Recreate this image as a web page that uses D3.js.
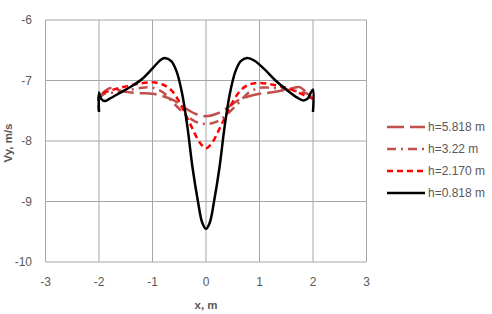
<!DOCTYPE html>
<html>
<head>
<meta charset="utf-8">
<script src="https://cdn.jsdelivr.net/npm/d3@7"></script>
<style>
  body { margin: 0; background: #fff; }
  text { font-family: "Liberation Sans", Arial, sans-serif; fill: #595959; }
</style>
</head>
<body>
<div id="chart"></div>
<script>
// Vy profiles across x for several heights h

var xTicks = [-3, -2, -1, 0, 1, 2, 3];
var yTicks = [-6, -7, -8, -9, -10];

var seriesNames = ["h=5.818 m", "h=3.22 m", "h=2.170 m", "h=0.818 m"];

var xs5818 = [-2, -1.9, -1.75, -1.6, -1.4, -1.2, -1.0, -0.8, -0.6, -0.4, -0.2, 0, 0.2, 0.4, 0.6, 0.8, 1.0, 1.2, 1.4, 1.6, 1.75, 1.9, 2];
var vy5818 = [-7.3, -7.18, -7.12, -7.17, -7.2, -7.21, -7.22, -7.26, -7.33, -7.45, -7.55, -7.59, -7.55, -7.45, -7.33, -7.26, -7.22, -7.2, -7.17, -7.13, -7.11, -7.22, -7.3];

var xs322 = [-2, -1.9, -1.7, -1.5, -1.2, -1.0, -0.8, -0.6, -0.4, -0.2, 0, 0.2, 0.4, 0.6, 0.8, 1.0, 1.2, 1.5, 1.7, 1.9, 2];
var vy322 = [-7.3, -7.22, -7.2, -7.17, -7.12, -7.12, -7.2, -7.38, -7.55, -7.68, -7.72, -7.68, -7.55, -7.38, -7.2, -7.12, -7.12, -7.15, -7.18, -7.22, -7.3];

var xs2170 = [-2, -2, -1.9, -1.6, -1.3, -1.0, -0.8, -0.65, -0.52, -0.36, -0.24, -0.12, 0, 0.12, 0.24, 0.36, 0.52, 0.65, 0.8, 1.0, 1.3, 1.6, 1.85, 2];
var vy2170 = [-7.5, -7.25, -7.2, -7.12, -7.06, -7.03, -7.07, -7.16, -7.32, -7.6, -7.82, -8.02, -8.12, -8.02, -7.82, -7.6, -7.32, -7.16, -7.07, -7.04, -7.08, -7.15, -7.25, -7.3];

var xs0818 = [-2, -2, -1.96, -1.89, -1.8, -1.6, -1.4, -1.2, -1.0, -0.85, -0.77, -0.65, -0.55, -0.45, -0.35, -0.25, -0.15, -0.07, 0, 0.07, 0.15, 0.25, 0.35, 0.45, 0.55, 0.65, 0.77, 0.9, 1.1, 1.3, 1.5, 1.7, 1.82, 1.9, 1.96, 2, 2];
var vy0818 = [-7.52, -7.2, -7.3, -7.34, -7.3, -7.2, -7.1, -6.98, -6.8, -6.66, -6.63, -6.68, -6.85, -7.2, -7.75, -8.45, -9.0, -9.35, -9.45, -9.35, -9.0, -8.45, -7.75, -7.2, -6.85, -6.68, -6.63, -6.67, -6.82, -7.0, -7.15, -7.28, -7.33, -7.3, -7.2, -7.15, -7.52];

var series = [
  {name: seriesNames[0], xs: xs5818, ys: vy5818, color: "#c0504d", width: 2.5, dash: "17,6"},
  {name: seriesNames[1], xs: xs322, ys: vy322, color: "#c0504d", width: 2.5, dash: "9,5,2,5"},
  {name: seriesNames[2], xs: xs2170, ys: vy2170, color: "#ff0000", width: 2.5, dash: "6,4"},
  {name: seriesNames[3], xs: xs0818, ys: vy0818, color: "#000000", width: 2.5, dash: null}
];

(function(){
  var width = 492, height = 314;
  var plotLeft = 45.5, plotRight = 366.5, plotTop = 20, plotBottom = 262;

  var svg = d3.select("#chart").append("svg")
    .attr("width", width)
    .attr("height", height);

  var x = d3.scaleLinear().domain([-3, 3]).range([plotLeft, plotRight]);
  var y = d3.scaleLinear().domain([-10, -6]).range([plotBottom, plotTop]);

  // gridlines
  svg.selectAll(".vgrid")
    .data(xTicks)
    .enter()
    .append("line")
    .attr("x1", function(d){ return x(d); })
    .attr("x2", function(d){ return x(d); })
    .attr("y1", plotTop)
    .attr("y2", plotBottom)
    .attr("stroke", "#a6a6a6")
    .attr("stroke-width", 1);

  svg.selectAll(".hgrid")
    .data(yTicks)
    .enter()
    .append("line")
    .attr("x1", plotLeft)
    .attr("x2", plotRight)
    .attr("y1", function(d){ return y(d); })
    .attr("y2", function(d){ return y(d); })
    .attr("stroke", "#a6a6a6")
    .attr("stroke-width", 1);

  // tick labels
  svg.selectAll(".xlab")
    .data(xTicks)
    .enter()
    .append("text")
    .attr("x", function(d){ return x(d); })
    .attr("y", 286)
    .attr("text-anchor", "middle")
    .style("font-size", "12px")
    .text(function(d){ return d; });

  svg.selectAll(".ylab")
    .data(yTicks)
    .enter()
    .append("text")
    .attr("x", 32)
    .attr("y", function(d){ return y(d) + 4; })
    .attr("text-anchor", "end")
    .style("font-size", "12px")
    .text(function(d){ return d; });

  // axis titles
  svg.append("text")
    .attr("x", x(0))
    .attr("y", 309)
    .attr("text-anchor", "middle")
    .style("font-size", "11.5px")
    .style("font-weight", "bold")
    .text("x, m");

  svg.append("text")
    .attr("transform", "translate(12,143) rotate(-90)")
    .attr("text-anchor", "middle")
    .style("font-size", "11.5px")
    .style("font-weight", "bold")
    .text("Vy, m/s");

  // curves
  var line = d3.line()
    .x(function(d){ return x(d[0]); })
    .y(function(d){ return y(d[1]); })
    .curve(d3.curveCatmullRom.alpha(0.5));

  series.forEach(function(s){
    var pts = s.xs.map(function(v, i){ return [v, s.ys[i]]; });
    svg.append("path")
      .datum(pts)
      .attr("d", line)
      .attr("fill", "none")
      .attr("stroke", s.color)
      .attr("stroke-width", s.width)
      .attr("stroke-dasharray", s.dash)
      .attr("stroke-linejoin", "round");
  });

  // legend
  var legend = svg.selectAll(".legend")
    .data(series)
    .enter()
    .append("g")
    .attr("transform", function(d, i){ return "translate(387," + (127 + i * 22) + ")"; });

  legend.append("line")
    .attr("x1", 0)
    .attr("x2", 38)
    .attr("y1", 0)
    .attr("y2", 0)
    .attr("stroke", function(d){ return d.color; })
    .attr("stroke-width", function(d){ return d.width; })
    .attr("stroke-dasharray", function(d){ return d.dash; });

  legend.append("text")
    .attr("x", 41)
    .attr("y", 4)
    .style("font-size", "12px")
    .text(function(d){ return d.name; });
})();
</script>
</body>
</html>
